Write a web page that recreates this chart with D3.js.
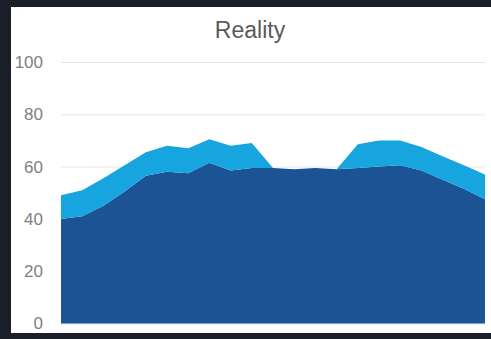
<!DOCTYPE html>
<html>
<head>
<meta charset="utf-8">
<script src="https://cdn.jsdelivr.net/npm/d3@7"></script>
<style>
  html, body { margin: 0; padding: 0; background: #1a1e29; }
  svg { display: block; }
</style>
</head>
<body>
<svg id="chart" width="491" height="339"></svg>
<script>
// Periods along the x axis (21 evenly spaced samples)
const periods = d3.range(1, 22);

// Base share (dark band)
const baseValues = [40, 41, 45, 50.5, 56.5, 58, 57.5, 61.5, 58.5, 59.5, 59.5, 59, 59.5, 59, 59.5, 60, 60.5, 58.5, 55, 51.5, 47.5];
// Additional share stacked on top (light band)
const extraValues = [9, 10, 10.5, 10, 9, 10, 9.5, 9, 9.5, 9.5, 0, 0, 0, 0, 9, 10, 9.5, 9, 9, 9, 9.5];

const yTicks = [0, 20, 40, 60, 80, 100];
const seriesKeys = ["base", "extra"];
const seriesColors = { base: "#1b5394", extra: "#17a5e0" };

const width = 491, height = 339;
const svg = d3.select("#chart");

// white card over dark frame
svg.append("rect")
  .attr("x", 11).attr("y", 7)
  .attr("width", width - 11).attr("height", 326)
  .attr("fill", "#ffffff");

const plot = { left: 61, right: 485, top: 62, bottom: 323.5 };

const x = d3.scaleLinear()
  .domain(d3.extent(periods))
  .range([plot.left, plot.right]);

const y = d3.scaleLinear()
  .domain([0, 100])
  .range([plot.bottom, plot.top]);

const rows = periods.map((p, i) => ({ period: p, base: baseValues[i], extra: extraValues[i] }));
const stacked = d3.stack().keys(seriesKeys)(rows);

// horizontal gridlines and value labels
const yAxis = d3.axisLeft(y)
  .tickValues(yTicks)
  .tickSize(-(plot.right - plot.left))
  .tickPadding(18)
  .tickFormat(d3.format("d"));

const axisG = svg.append("g")
  .attr("transform", `translate(${plot.left},0)`)
  .call(yAxis);
axisG.select(".domain").remove();
axisG.selectAll(".tick line").attr("stroke", "#e6e6e6").attr("stroke-width", 1);
axisG.selectAll(".tick text")
  .attr("fill", "#808080")
  .attr("font-family", "'Liberation Sans', Arial, sans-serif")
  .attr("font-size", 17);

// stacked areas
const area = d3.area()
  .x(d => x(d.data.period))
  .y0(d => y(d[0]))
  .y1(d => y(d[1]));

svg.append("g")
  .selectAll("path")
  .data(stacked)
  .join("path")
  .attr("d", area)
  .attr("fill", d => seriesColors[d.key]);

// title
svg.append("text")
  .attr("x", 250)
  .attr("y", 38)
  .attr("text-anchor", "middle")
  .attr("fill", "#5a5a5a")
  .attr("font-family", "'Liberation Sans', Arial, sans-serif")
  .attr("font-size", 23)
  .text("Reality");
</script>
</body>
</html>
